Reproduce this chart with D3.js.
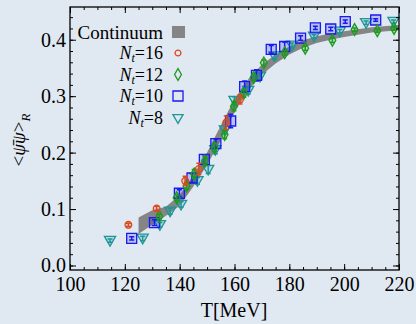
<!DOCTYPE html>
<html lang="en">
<head>
<meta charset="utf-8">
<title>Chiral condensate vs T</title>
<script src="https://d3js.org/d3.v7.min.js"></script>
<style>
  body { margin: 0; background: #e0e9f2; }
  svg { font-family: "Liberation Serif", "DejaVu Serif", serif; }
</style>
</head>
<body>
<script>
// Data

// continuum band
const bandT  = [125, 130, 135, 140, 145, 150, 155, 160, 165, 170, 175, 180, 185, 190, 195, 200, 210, 220];
const bandLo = [0.056, 0.072, 0.088, 0.106, 0.140, 0.178, 0.222, 0.272, 0.310, 0.338, 0.358, 0.374, 0.386, 0.394, 0.400, 0.405, 0.413, 0.417];
const bandHi = [0.085, 0.098, 0.104, 0.125, 0.160, 0.200, 0.248, 0.295, 0.330, 0.356, 0.374, 0.388, 0.399, 0.406, 0.411, 0.415, 0.422, 0.426];

// Nt=16
const nt16T = [121.3, 131.6, 142.0, 147.0, 157.0, 162.0];
const nt16V = [0.072, 0.101, 0.150, 0.171, 0.253, 0.294];
const nt16E = [0.003, 0.004, 0.008, 0.010, 0.012, 0.008];

// Nt=12
const nt12T = [132.6, 138.9, 142.5, 145.3, 149.2, 152.7, 156.4, 159.8, 163.4, 167.0, 170.7, 178.3, 185.8, 195.7, 203.8, 212.1, 218.2];
const nt12V = [0.087, 0.120, 0.141, 0.162, 0.185, 0.209, 0.232, 0.282, 0.305, 0.333, 0.359, 0.377, 0.385, 0.399, 0.418, 0.416, 0.420];
const nt12E = [0.004, 0.005, 0.006, 0.008, 0.008, 0.007, 0.007, 0.008, 0.007, 0.006, 0.005, 0.004, 0.004, 0.004, 0.003, 0.003, 0.003];

// Nt=10
const nt10T = [122.5, 130.8, 139.9, 144.5, 149.0, 153.2, 158.6, 163.7, 168.0, 173.4, 178.3, 184.1, 189.5, 195.1, 200.4, 211.5];
const nt10V = [0.048, 0.076, 0.128, 0.155, 0.188, 0.216, 0.256, 0.317, 0.337, 0.383, 0.388, 0.403, 0.421, 0.419, 0.432, 0.435];
const nt10E = [0.003, 0.005, 0.006, 0.008, 0.008, 0.008, 0.012, 0.010, 0.010, 0.007, 0.008, 0.004, 0.003, 0.003, 0.003, 0.002];

// Nt=8
const nt8T = [114.6, 126.5, 132.8, 136.5, 140.5, 146.5, 150.4, 153.0, 156.5, 160.0, 165.0, 169.3, 174.6, 181.0, 189.0, 198.4, 208.0, 218.0];
const nt8V = [0.044, 0.048, 0.072, 0.096, 0.108, 0.150, 0.170, 0.205, 0.240, 0.292, 0.310, 0.335, 0.371, 0.390, 0.406, 0.415, 0.430, 0.432];
const nt8E = [0.003, 0.004, 0.004, 0.005, 0.005, 0.006, 0.007, 0.007, 0.007, 0.007, 0.006, 0.006, 0.005, 0.004, 0.003, 0.003, 0.003, 0.003];

const xTicks = [100, 120, 140, 160, 180, 200, 220];
const yTicks = [0.0, 0.1, 0.2, 0.3, 0.4];

// Constants
const w = 416, h = 324;
const mLeft = 70, mRight = 399, mTop = 7, mBottom = 270;

const svg = d3.select("body").append("svg")
  .attr("width", w).attr("height", h);

const x = d3.scaleLinear().domain([100, 220]).range([mLeft, mRight]);
const y = d3.scaleLinear().domain([-0.008, 0.458]).range([mBottom, mTop]);

// band
const band = bandT.map((t, i) => ({t: t, lo: bandLo[i], hi: bandHi[i]}));
svg.append("path")
  .datum(band)
  .attr("fill", "#858585")
  .attr("d", d3.area().x(d => x(d.t)).y0(d => y(d.lo)).y1(d => y(d.hi)));

// series
const series = [
  {t: nt8T,  v: nt8V,  e: nt8E,  color: "#1f9595", sym: "tri"},
  {t: nt10T, v: nt10V, e: nt10E, color: "#1a1aee", sym: "square"},
  {t: nt12T, v: nt12V, e: nt12E, color: "#1e9a1e", sym: "diamond"},
  {t: nt16T, v: nt16V, e: nt16E, color: "#dc4a1e", sym: "circle"}
];

function symbolPath(sym, s) {
  if (sym === "circle") return d3.symbol(d3.symbolCircle, s * s * 0.55)();
  if (sym === "square") return d3.symbol(d3.symbolSquare, s * s)();
  if (sym === "diamond") return d3.symbol(d3.symbolDiamond, s * s * 0.5)();
  return d3.symbol(d3.symbolTriangle, s * s * 0.45)();
}

const symSize = {circle: 8, square: 10, diamond: 9, tri: 11};

series.forEach(s => {
  const pts = s.t.map((t, i) => ({t: t, v: s.v[i], e: s.e[i]}));
  const g = svg.append("g");
  const pt = g.selectAll("g").data(pts).enter().append("g")
    .attr("transform", d => "translate(" + x(d.t) + "," + y(d.v) + ")");

  pt.append("path")
    .attr("d", symbolPath(s.sym, symSize[s.sym]))
    .attr("transform", s.sym === "tri" ? "rotate(180) translate(0,1)" : null)
    .attr("fill", s.color).attr("fill-opacity", 0.2)
    .attr("stroke", s.color).attr("stroke-width", 1.3);

  // error bars
  pt.append("path")
    .attr("d", d => {
      const dy = Math.max(y(0) - y(d.e), 1.2);
      return "M0," + (-dy) + "V" + dy + "M-2.5," + (-dy) + "H2.5M-2.5," + dy + "H2.5";
    })
    .attr("stroke", s.color).attr("stroke-width", 1.5).attr("fill", "none");
});

// axes
function addAxis(axis, tr) {
  const g = svg.append("g").attr("transform", tr).call(axis);
  g.select(".domain").remove();
  g.selectAll("line").attr("stroke", "#000");
  g.selectAll("text").attr("font-size", 20).attr("font-family", "Liberation Serif").attr("fill", "#000");
  return g;
}

const xMinor = d3.range(100, 221, 5);
const yMinor = d3.range(0, 0.451, 0.02);

addAxis(d3.axisBottom(x).tickValues(xTicks).tickSize(-6).tickPadding(7).tickFormat(d3.format("d")), "translate(0," + mBottom + ")");
addAxis(d3.axisBottom(x).tickValues(xMinor).tickSize(-3).tickFormat(""), "translate(0," + mBottom + ")");
addAxis(d3.axisTop(x).tickValues(xTicks).tickSize(-6).tickFormat(""), "translate(0," + mTop + ")");
addAxis(d3.axisTop(x).tickValues(xMinor).tickSize(-3).tickFormat(""), "translate(0," + mTop + ")");

addAxis(d3.axisLeft(y).tickValues(yTicks).tickSize(-6).tickPadding(4).tickFormat(d3.format(".1f")), "translate(" + mLeft + ",0)");
addAxis(d3.axisLeft(y).tickValues(yMinor).tickSize(-3).tickFormat(""), "translate(" + mLeft + ",0)");
addAxis(d3.axisRight(y).tickValues(yTicks).tickSize(-6).tickFormat(""), "translate(" + mRight + ",0)");
addAxis(d3.axisRight(y).tickValues(yMinor).tickSize(-3).tickFormat(""), "translate(" + mRight + ",0)");

// frame
svg.append("rect")
  .attr("x", mLeft).attr("y", mTop)
  .attr("width", mRight - mLeft).attr("height", mBottom - mTop)
  .attr("fill", "none").attr("stroke", "#000").attr("stroke-width", 1.3);

// axis labels
svg.append("text")
  .attr("x", 234).attr("y", 317)
  .attr("text-anchor", "middle")
  .attr("font-size", 20)
  .text("T[MeV]");

const yl = svg.append("text")
  .attr("transform", "translate(25,140) rotate(-90)")
  .attr("text-anchor", "middle")
  .attr("font-size", 19);
yl.append("tspan").text("<");
yl.append("tspan").attr("font-style", "italic").text("\u03C8\u0304");
yl.append("tspan").attr("font-style", "italic").text("\u03C8");
yl.append("tspan").text(">");
yl.append("tspan").attr("font-style", "italic").attr("font-size", 13).attr("dy", 5).text("R");

// legend
const legendNames = ["16", "12", "10", "8"];
const legendSym = ["circle", "diamond", "square", "tri"];
const legendColor = ["#dc4a1e", "#1e9a1e", "#1a1aee", "#1f9595"];
const legX = 163, legSymX = 178;

svg.append("text")
  .attr("x", legX).attr("y", 39)
  .attr("text-anchor", "end").attr("font-size", 19)
  .text("Continuum");
svg.append("rect")
  .attr("x", legSymX - 6).attr("y", 26).attr("width", 13).attr("height", 12)
  .attr("fill", "#858585");

legendNames.forEach((n, i) => {
  const yy = 53 + i * 21.5;
  const t = svg.append("text")
    .attr("x", legX).attr("y", yy + 6)
    .attr("text-anchor", "end").attr("font-size", 18);
  t.append("tspan").attr("font-style", "italic").text("N");
  t.append("tspan").attr("font-style", "italic").attr("font-size", 12).attr("dy", 3).text("t");
  t.append("tspan").attr("dy", -3).text("=" + n);
  const sz = {circle: 7, diamond: 9, square: 10, tri: 10}[legendSym[i]];
  svg.append("path")
    .attr("transform", "translate(" + legSymX + "," + yy + ")" + (legendSym[i] === "tri" ? " rotate(180)" : ""))
    .attr("d", symbolPath(legendSym[i], sz))
    .attr("fill", "none")
    .attr("stroke", legendColor[i]).attr("stroke-width", 1.3);
});
</script>
</body>
</html>
